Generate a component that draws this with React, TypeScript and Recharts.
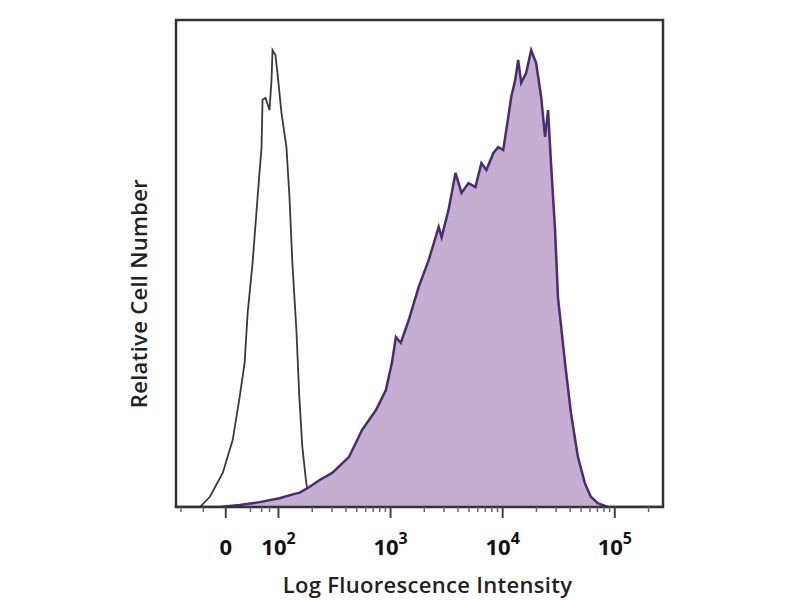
import React from 'react';
import { ComposedChart, Area, XAxis, YAxis, ReferenceArea } from 'recharts';

// x in display decades (2 = 10^2, 3 = 10^3, ...), y in % of max channel count
const controlX = [1.086, 1.3, 1.388, 1.503, 1.592, 1.654, 1.698, 1.725, 1.769, 1.814, 1.849, 1.858, 1.885, 1.92, 1.938, 1.947, 1.973, 1.991, 2.027, 2.071, 2.098, 2.124, 2.16, 2.186, 2.213, 2.248, 2.275, 2.32, 2.45, 5.43];
const controlY = [0, 0, 2.1, 7.0, 13.8, 22.6, 29.6, 39.8, 50.1, 63.7, 73.9, 83.6, 84.0, 81.5, 87.7, 93.8, 92.8, 89.1, 80.9, 73.9, 63.7, 50.1, 36.3, 22.6, 12.3, 4.9, 2.1, 0.4, 0, 0];

const stainedX = [1.086, 1.476, 1.654, 1.831, 2.009, 2.142, 2.186, 2.275, 2.364, 2.479, 2.63, 2.745, 2.87, 2.958, 3.012, 3.047, 3.091, 3.162, 3.251, 3.34, 3.402, 3.429, 3.455, 3.517, 3.579, 3.633, 3.695, 3.757, 3.81, 3.855, 3.917, 3.961, 4.005, 4.05, 4.076, 4.112, 4.138, 4.165, 4.209, 4.254, 4.298, 4.343, 4.378, 4.405, 4.431, 4.467, 4.493, 4.556, 4.609, 4.671, 4.733, 4.786, 4.848, 4.937, 5.43];
const stainedY = [0, 0, 0.4, 1.0, 1.8, 2.7, 2.9, 4.1, 5.5, 7.0, 10.3, 15.8, 19.9, 24.0, 29.6, 34.9, 33.7, 38.4, 45.2, 50.7, 55.4, 57.5, 55.4, 61.0, 68.6, 64.5, 66.5, 65.7, 70.6, 69.2, 72.7, 73.9, 73.3, 80.1, 84.2, 87.7, 91.8, 87.1, 89.1, 93.8, 91.2, 84.2, 76.0, 81.5, 70.6, 56.9, 43.1, 29.6, 19.3, 10.3, 4.9, 2.1, 0.8, 0, 0];

const X_MIN = 1.086;
const X_MAX = 5.43;
const majorTicks = [1.53, 2, 3, 4, 5];
const majorBase = ['0', '10', '10', '10', '10'];
const majorExp = ['', '2', '3', '4', '5'];
const minorTicks = [1.13, 1.33, 1.75, 1.85, 1.92,
  2.301, 2.477, 2.602, 2.699, 2.778, 2.845, 2.903, 2.954,
  3.301, 3.477, 3.602, 3.699, 3.778, 3.845, 3.903, 3.954,
  4.301, 4.477, 4.602, 4.699, 4.778, 4.845, 4.903, 4.954,
  5.301];

const allX = Array.from(new Set([...controlX, ...stainedX])).sort((a, b) => a - b);
const data = allX.map((x) => {
  const ci = controlX.indexOf(x);
  const si = stainedX.indexOf(x);
  return {
    x,
    control: ci >= 0 ? controlY[ci] : null,
    stained: si >= 0 ? stainedY[si] : null,
  };
});
const allTicks = [...majorTicks, ...minorTicks].sort((a, b) => a - b);

const Tick = (props: any) => {
  const { x, y, payload } = props;
  const i = majorTicks.indexOf(payload.value);
  if (i < 0) {
    return <line x1={x} x2={x} y1={y} y2={y + 5} stroke="#666" strokeWidth={1.5} />;
  }
  return (
    <g>
      <line x1={x} x2={x} y1={y} y2={y + 11} stroke="#444" strokeWidth={2} />
      <text x={x} y={y + 48} textAnchor="middle" fontFamily="Open Sans" fontWeight={700} fontSize={22} fill="#111">
        <tspan>{majorBase[i]}</tspan>
        {majorExp[i] ? <tspan dy={-11} fontSize={16}>{majorExp[i]}</tspan> : null}
      </text>
    </g>
  );
};

export default function App() {
  return (
    <div style={{ position: 'absolute', left: 0, top: 0, width: 800, height: 600, background: '#fff' }}>
      <ComposedChart width={800} height={600} data={data} margin={{ top: 20, right: 137, left: 116, bottom: 33 }}>
        <XAxis
          dataKey="x"
          type="number"
          domain={[X_MIN, X_MAX]}
          ticks={allTicks}
          interval={0}
          allowDataOverflow
          height={60}
          axisLine={false}
          tickLine={false}
          tickSize={0}
          tickMargin={0}
          tick={<Tick />}
          label={{
            content: (p: any) => {
              const vb = p.viewBox;
              return (
                <text x={vb.x + vb.width / 2 + 8} y={vb.y + 86} textAnchor="middle" fontFamily="Open Sans" fontWeight={600} fontSize={22} letterSpacing={0.3} fill="#222">
                  Log Fluorescence Intensity
                </text>
              );
            },
          }}
        />
        <YAxis
          type="number"
          domain={[0, 100]}
          width={60}
          tick={false}
          tickLine={false}
          axisLine={false}
          allowDataOverflow
          label={{
            content: (p: any) => {
              const vb = p.viewBox;
              const cx = vb.x + vb.width - 38;
              const cy = vb.y + vb.height / 2 + 30;
              return (
                <text x={cx} y={cy} textAnchor="middle" dominantBaseline="central" transform={`rotate(-90, ${cx}, ${cy})`} fontFamily="Open Sans" fontWeight={600} fontSize={22} letterSpacing={0.3} fill="#222">
                  Relative Cell Number
                </text>
              );
            },
          }}
        />
        <Area
          dataKey="control"
          type="linear"
          connectNulls
          stroke="#3a3a3a"
          strokeWidth={1.8}
          fill="#ffffff"
          fillOpacity={1}
          isAnimationActive={false}
          dot={false}
          activeDot={false}
        />
        <Area
          dataKey="stained"
          type="linear"
          connectNulls
          stroke="#4a2c70"
          strokeWidth={2.5}
          fill="#c6aed2"
          fillOpacity={1}
          isAnimationActive={false}
          dot={false}
          activeDot={false}
        />
        <ReferenceArea x1={X_MIN} x2={X_MAX} y1={0} y2={100} fill="none" stroke="#333" strokeWidth={2.5} ifOverflow="visible" />
      </ComposedChart>
    </div>
  );
}
